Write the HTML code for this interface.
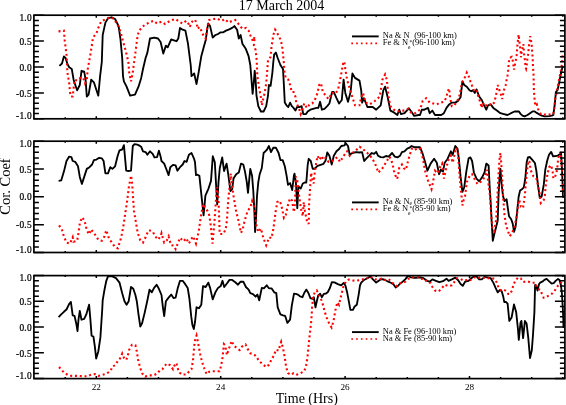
<!DOCTYPE html><html><head><meta charset="utf-8"><style>html,body{margin:0;padding:0;background:#fff;width:566px;height:405px;overflow:hidden}svg{display:block;will-change:transform}text{font-family:"Liberation Serif",serif;fill:#000}.sm{stroke:#000;stroke-width:0.22px}</style></head><body>
<svg width="566" height="405" viewBox="0 0 566 405">
<rect width="566" height="405" fill="#fff"/>
<polyline points="59.4,65.9 62.0,63.5 63.9,56.5 65.6,58.0 67.4,64.0 69.2,67.3 71.8,69.1 73.6,79.7 75.3,85.0 77.1,90.3 79.8,85.0 81.5,70.8 84.2,71.7 85.6,79.7 86.8,96.5 88.6,94.7 91.2,79.7 93.9,82.3 96.5,90.3 98.3,95.6 100.1,76.1 101.8,62.0 102.7,35.0 105.4,22.6 108.0,18.2 111.6,17.3 115.1,19.0 118.6,26.1 120.4,38.5 122.2,57.9 123.0,76.1 123.9,81.4 126.6,86.7 130.1,95.6 135.0,94.7 138.5,86.7 141.2,77.9 143.0,69.0 145.6,58.0 147.4,52.6 150.0,38.5 154.4,37.6 158.0,38.5 160.6,42.0 163.3,53.5 165.9,45.6 167.7,47.3 171.2,39.4 173.9,40.3 176.5,41.2 178.3,38.5 180.0,27.9 182.7,29.7 185.4,30.6 188.0,43.8 190.7,65.0 191.5,76.1 194.2,73.5 196.5,84.1 198.6,72.6 201.3,56.2 203.9,46.5 205.7,40.3 207.4,27.9 208.3,23.5 210.1,26.1 212.7,37.6 215.4,35.0 218.0,34.1 220.7,32.3 223.3,32.3 226.0,30.6 228.6,29.7 232.2,27.9 234.4,26.1 237.1,29.7 238.8,38.5 240.6,35.0 242.4,43.8 245.9,49.1 248.6,56.2 250.3,65.0 251.2,76.1 252.6,93.8 253.9,81.4 254.7,70.8 255.6,79.7 256.5,95.6 258.3,106.2 260.9,111.5 263.6,111.5 266.2,106.2 268.0,95.6 268.9,85.0 270.6,85.9 272.4,72.6 273.3,62.0 274.2,54.4 275.9,52.6 277.7,58.0 280.4,65.0 283.0,69.0 283.9,85.0 284.8,102.6 286.5,105.3 288.3,107.0 290.1,102.6 291.8,106.2 293.6,107.9 295.4,110.6 297.1,107.0 299.8,107.0 301.6,106.2 303.3,114.1 306.0,114.1 307.7,111.5 310.4,109.7 313.0,108.8 316.6,107.9 318.3,107.9 320.1,101.8 321.9,109.7 324.5,108.8 327.2,106.2 329.4,103.5 332.1,92.0 333.8,92.0 336.5,98.2 339.1,103.5 341.8,100.0 343.6,79.7 345.3,92.9 348.0,101.8 350.6,92.0 352.4,73.5 355.0,77.9 359.5,80.6 361.2,90.3 362.1,102.6 363.9,98.2 367.4,107.0 372.7,107.0 376.2,109.7 380.7,105.3 383.3,90.3 385.1,86.7 387.7,97.3 390.4,110.6 393.9,112.4 397.4,115.0 399.2,109.7 401.0,114.1 404.5,113.2 408.9,108.3 412.5,113.2 414.2,115.9 418.6,115.0 420.0,115.0 421.8,109.7 424.4,109.7 428.0,107.9 429.7,113.2 432.4,110.6 435.0,115.0 441.2,115.0 443.9,113.2 446.5,107.9 449.2,104.4 451.8,102.6 455.3,102.6 458.0,100.9 460.6,97.3 462.4,81.4 464.2,85.0 466.8,86.7 469.5,90.3 471.2,91.2 473.0,90.3 474.8,92.9 476.5,89.4 479.2,96.5 481.8,100.0 483.6,104.4 486.3,109.7 488.0,105.3 490.7,104.4 493.3,107.9 496.9,110.6 500.4,113.2 503.9,114.1 507.5,115.0 511.0,113.2 514.5,111.5 518.9,111.4 520.3,113.6 522.5,115.7 524.6,116.4 527.5,115.0 530.4,112.9 532.5,111.4 534.7,111.4 536.8,112.9 539.0,114.3 541.8,115.7 544.7,116.4 549.0,116.2 551.8,115.7 553.3,115.0 554.7,105.0 555.9,92.1 557.6,89.9 559.0,83.5 560.4,76.3 561.9,69.2 563.0,66.0" fill="none" stroke="#000" stroke-width="1.85" stroke-linejoin="round"/>
<polyline points="58.5,31.4 63.9,30.6 64.7,40.3 65.6,47.3 66.5,54.4 67.4,72.6 69.2,83.2 70.0,92.0 70.9,96.5 72.7,96.5 73.6,88.5 74.5,79.7 77.1,80.6 80.6,77.9 83.3,77.9 85.0,83.2 86.8,79.7 87.7,69.4 90.4,54.4 92.1,43.8 93.0,37.6 96.5,33.2 98.3,27.9 101.0,21.7 106.3,18.7 110.7,17.3 114.2,19.0 117.7,25.3 120.4,31.4 123.0,41.2 125.7,50.9 128.3,61.5 129.2,72.6 131.0,81.4 132.8,72.6 133.6,65.5 135.4,52.6 136.8,42.0 137.7,35.0 139.4,30.6 142.1,27.0 145.6,24.4 149.1,22.6 153.6,20.8 157.1,23.5 161.5,21.7 165.0,24.0 168.6,21.7 172.1,20.0 175.6,19.1 179.2,21.7 182.7,23.5 186.2,20.8 188.9,24.4 189.8,27.0 191.5,22.6 193.3,20.0 195.1,20.0 196.8,23.5 197.5,28.8 199.5,27.0 201.3,30.6 203.9,36.7 205.7,38.5 206.6,31.4 208.3,22.6 209.2,20.0 212.7,19.1 217.2,18.7 221.6,20.8 225.1,19.1 228.6,22.6 232.2,20.8 235.3,20.0 238.8,24.4 242.4,28.8 245.9,27.9 248.6,30.6 251.2,37.6 253.0,41.2 254.7,36.7 253.9,45.6 255.6,50.0 256.5,58.0 257.4,76.1 259.2,88.5 260.9,97.3 261.8,105.3 262.7,100.9 264.5,93.8 266.2,83.2 267.1,72.6 268.0,60.0 270.6,57.0 271.5,47.3 273.3,35.0 275.1,29.7 276.8,32.3 280.4,39.4 282.1,45.6 283.0,54.4 283.9,63.2 284.3,70.8 285.7,77.9 288.3,79.7 290.1,85.0 291.8,92.0 293.6,92.0 295.4,96.5 296.3,102.6 298.9,108.0 300.7,114.1 302.4,109.7 304.2,103.5 306.9,108.0 309.5,104.4 312.2,103.5 314.8,100.0 317.5,92.9 319.2,85.0 321.0,83.2 322.8,92.0 325.0,94.7 328.5,99.1 332.1,92.9 335.6,93.8 338.3,88.5 340.9,76.1 342.7,65.5 343.6,61.5 344.4,62.0 345.3,69.1 347.1,79.7 349.7,88.5 352.4,97.3 355.0,105.3 359.5,105.3 361.2,97.3 363.0,92.9 365.6,102.6 369.2,104.4 372.7,102.6 376.2,100.0 379.8,96.5 382.4,79.7 385.1,74.4 386.8,79.7 388.6,97.3 390.4,106.2 393.9,109.7 397.4,111.5 401.0,110.6 404.5,110.6 408.0,108.8 411.6,113.2 415.1,113.2 418.6,110.6 420.0,109.7 422.7,100.9 426.2,98.2 429.7,102.6 433.3,103.5 436.8,104.4 440.3,102.6 443.9,101.8 446.5,97.3 447.4,92.0 449.2,88.5 450.0,97.3 451.8,106.2 454.5,105.3 457.1,100.9 458.9,98.2 461.5,85.0 463.3,79.7 465.1,77.0 466.8,72.6 468.6,76.1 470.4,81.4 472.1,85.9 473.9,90.3 476.5,89.4 478.3,96.5 480.1,101.8 481.8,107.9 482.7,102.6 484.5,106.2 486.3,105.3 488.9,103.5 491.6,105.3 494.2,102.6 496.0,95.6 497.7,85.0 499.5,90.3 501.3,95.6 502.2,99.1 503.9,90.3 505.7,85.0 506.6,79.7 507.4,76.3 508.0,72.5 508.3,68.2 508.8,63.3 509.2,58.3 511.7,56.9 512.9,61.4 513.5,65.7 514.1,69.7 514.8,65.1 515.7,60.8 516.6,55.9 517.0,51.5 517.2,46.6 517.8,42.3 518.2,37.3 518.7,34.6 519.1,39.8 519.7,44.1 520.3,49.1 520.9,53.4 520.9,57.3 521.5,52.8 523.4,44.1 523.6,48.5 524.0,53.4 524.6,57.7 525.2,62.7 525.6,67.6 526.1,68.8 526.9,63.9 527.3,59.0 528.1,54.6 528.6,49.7 529.0,45.4 529.8,40.8 530.2,36.1 531.0,40.4 531.7,44.8 532.0,49.7 532.4,54.3 532.7,58.6 532.9,63.5 533.0,68.2 533.5,72.5 533.9,90.7 534.7,100.7 535.4,105.7 536.8,104.3 538.2,109.3 540.4,113.6 543.2,115.0 546.1,114.3 549.0,114.3 551.8,115.0 553.3,113.6 554.0,109.3 554.7,103.5 555.4,97.8 556.9,90.7 558.3,83.5 559.7,76.3 561.2,69.2 561.9,64.1 562.6,55.3" fill="none" stroke="#ff0000" stroke-width="2.1" stroke-dasharray="2 2.8"/>
<polyline points="58.6,180.8 61.2,180.4 63.9,171.6 66.5,161.0 69.2,156.6 71.4,157.1 72.7,161.0 75.3,161.9 78.0,166.3 79.8,176.9 81.9,183.9 84.2,176.9 86.8,168.9 89.5,167.2 92.1,164.5 93.9,160.1 96.5,159.6 99.2,157.8 101.8,158.3 103.6,161.0 105.4,173.3 108.0,173.3 110.3,167.2 112.4,168.9 115.1,166.3 117.7,155.7 119.5,150.4 122.2,149.5 123.9,145.1 126.2,170.7 128.3,171.0 131.0,170.7 132.8,146.0 134.5,144.2 137.2,144.7 138.5,145.1 141.2,146.8 143.0,151.3 145.6,152.1 147.4,154.8 150.0,151.3 152.7,153.9 154.4,157.4 157.1,157.1 158.9,150.7 160.6,156.6 161.5,161.0 164.2,163.6 165.9,168.0 168.6,175.1 170.3,167.2 173.0,164.9 175.6,165.4 177.4,170.7 180.0,167.2 182.7,164.5 184.5,161.0 186.6,161.9 188.9,154.8 191.5,153.0 194.2,159.2 195.0,162.3 196.0,175.1 197.5,174.7 199.4,175.9 201.2,193.2 203.6,215.4 205.4,195.7 208.6,188.3 211.0,180.9 212.8,156.2 214.8,162.3 217.2,204.3 218.5,182.1 219.8,168.0 222.2,157.4 224.1,171.0 226.6,163.6 228.3,174.7 230.4,191.0 232.2,189.2 233.5,178.6 236.2,174.2 238.8,172.5 241.0,163.6 243.3,164.5 245.0,171.6 246.8,182.2 248.0,192.8 249.4,177.8 250.3,168.9 252.1,176.0 253.3,191.0 254.4,211.7 255.1,232.0 256.1,217.0 257.0,196.0 258.3,182.2 259.7,174.2 261.8,168.0 263.6,153.0 265.3,151.3 267.1,149.5 268.9,146.0 271.0,152.1 273.3,147.7 275.9,147.7 278.6,153.0 280.4,160.1 282.7,160.1 284.8,166.3 286.5,175.1 288.0,184.8 290.1,183.1 292.2,190.1 294.0,175.1 294.5,173.7 295.9,182.5 297.3,208.2 298.4,186.5 300.8,188.5 302.8,183.5 304.8,182.5 306.3,182.5 307.7,164.8 308.7,158.8 310.7,160.8 312.7,168.7 314.6,168.7 317.6,165.8 320.6,164.8 323.5,163.8 325.5,160.8 327.3,152.5 329.4,155.7 331.7,164.5 333.8,155.7 336.5,151.3 339.1,149.0 341.3,146.0 344.4,145.4 345.8,143.3 348.0,146.0 349.7,154.8 352.4,153.0 355.9,152.1 359.5,152.5 362.1,152.1 364.2,161.0 366.5,158.3 369.2,155.7 371.8,153.0 374.1,153.9 376.2,151.8 378.0,155.7 380.7,157.1 383.3,157.4 386.0,156.0 388.6,156.6 392.1,153.0 394.8,156.6 397.4,157.4 400.1,155.7 401.9,152.1 404.5,151.3 407.2,148.6 409.5,147.7 411.6,146.0 414.2,147.2 416.9,147.2 420.0,147.2 422.7,153.9 425.3,162.7 427.4,170.7 430.6,163.6 434.1,158.8 436.8,162.7 439.1,174.2 440.8,169.8 443.0,171.6 444.7,162.7 447.4,159.2 450.9,151.3 452.7,154.8 455.3,146.0 457.5,148.6 458.9,159.2 460.6,176.9 462.4,191.9 464.2,187.5 466.3,171.6 468.6,158.3 470.4,157.4 472.1,161.0 473.9,172.5 476.5,178.6 479.2,181.3 481.8,177.8 484.5,172.5 486.3,163.6 488.6,165.4 489.8,189.2 490.7,202.8 491.6,220.5 492.8,240.8 494.2,234.6 496.0,227.6 497.7,220.5 498.6,194.0 499.5,178.6 500.4,168.9 501.6,183.9 503.0,196.0 504.5,201.1 506.6,199.3 507.5,205.9 509.0,216.2 511.2,219.2 512.7,223.6 514.1,231.8 515.6,226.6 517.1,211.8 518.6,197.0 520.1,190.4 522.3,188.9 523.8,187.4 525.3,178.5 526.7,162.2 527.9,157.5 529.7,157.0 531.9,159.3 534.9,163.0 536.4,171.1 537.9,184.4 539.8,198.0 541.6,196.8 543.8,184.4 545.3,169.6 547.2,160.7 549.0,154.8 551.2,151.9 553.1,156.3 555.6,156.0 557.9,155.6 560.1,154.1 561.1,153.3 562.0,169.6 562.6,184.4 563.0,197.8" fill="none" stroke="#000" stroke-width="1.85" stroke-linejoin="round"/>
<polyline points="59.1,225.4 62.1,230.2 63.9,236.4 66.5,242.6 70.0,243.5 72.7,237.3 73.6,241.7 77.1,240.8 78.0,236.4 79.8,223.2 82.0,217.3 84.5,220.5 86.8,230.2 89.1,234.3 91.2,229.3 93.0,232.0 95.7,235.5 98.3,239.9 101.8,240.8 104.5,236.4 106.3,230.2 108.9,238.2 112.4,243.5 115.1,247.0 117.8,248.3 121.1,237.8 123.3,226.7 125.6,211.1 127.3,200.0 128.9,186.7 131.1,175.6 132.2,184.4 132.9,195.6 134.0,211.1 135.9,222.3 137.7,232.9 140.3,240.3 143.0,242.6 145.6,237.3 147.4,232.9 149.1,230.2 152.7,231.5 155.3,236.4 158.0,239.6 160.6,236.4 161.5,233.2 163.3,239.9 164.2,242.6 166.8,240.3 168.6,236.4 169.5,240.3 171.2,245.2 173.5,245.6 175.6,249.1 177.4,244.4 180.0,237.8 183.6,241.3 186.2,238.2 188.9,243.5 191.2,239.1 193.3,236.4 196.0,243.5 198.7,231.5 201.2,214.2 203.3,204.0 205.0,207.3 207.4,210.8 209.2,215.2 210.6,224.0 211.3,231.1 212.5,243.6 214.3,224.1 216.0,199.4 217.2,187.0 218.5,199.4 219.7,234.0 223.2,234.0 225.7,229.3 226.9,220.5 228.3,199.4 230.1,182.1 230.8,173.5 232.0,185.8 233.5,195.8 234.4,201.1 236.2,211.7 238.0,218.7 239.7,226.7 241.0,232.9 242.7,229.3 244.5,221.4 246.3,215.2 247.7,210.8 250.3,207.3 252.1,201.1 253.9,206.4 255.6,217.0 256.5,225.8 258.3,232.0 260.9,228.5 262.7,235.5 264.5,240.8 266.2,245.2 267.5,241.7 269.2,237.3 271.5,238.2 273.3,229.3 274.5,220.5 275.6,211.7 277.3,202.0 279.5,200.7 281.2,204.6 282.7,211.7 283.9,217.9 285.7,215.2 287.4,207.3 289.9,198.4 291.9,200.3 293.9,212.2 294.9,204.3 295.9,176.6 297.3,180.6 298.4,190.5 299.8,200.3 300.8,208.2 302.8,216.1 303.8,202.3 304.8,210.2 306.7,220.1 308.7,224.0 309.1,204.3 310.3,184.5 311.1,172.7 312.3,178.6 313.7,183.5 314.6,173.7 316.2,162.8 317.6,155.9 319.6,159.8 321.6,155.9 323.5,159.8 325.5,157.8 328.5,161.9 332.1,161.0 335.6,158.3 337.4,157.4 340.0,161.9 342.7,157.4 344.4,154.8 347.1,151.3 349.7,155.7 352.4,153.0 355.9,150.4 359.5,146.8 363.0,148.6 365.6,152.1 367.4,153.0 370.1,155.7 372.7,159.2 375.4,164.5 377.1,168.9 378.0,172.5 381.5,169.8 384.2,165.4 386.8,161.0 389.5,156.6 391.3,160.1 392.7,164.5 393.9,170.7 395.3,175.1 397.1,179.0 398.3,174.2 399.2,168.0 401.9,164.5 403.6,168.0 405.9,169.8 407.2,164.5 408.0,161.0 409.8,154.8 411.9,148.6 414.2,147.7 416.9,150.4 420.4,148.6 421.8,153.9 423.0,159.2 425.3,171.6 428.0,180.4 431.5,189.2 433.3,180.4 435.0,170.7 437.7,173.3 440.3,166.3 442.1,163.6 443.9,178.6 445.6,170.7 448.3,160.1 450.9,155.7 452.7,162.7 454.5,154.8 456.2,147.7 458.0,153.9 458.9,166.3 459.8,178.6 461.5,195.8 462.4,205.5 463.3,201.1 465.1,195.8 466.8,182.2 469.5,176.0 472.1,174.2 474.8,179.5 477.4,183.9 480.1,182.2 482.7,180.4 485.4,175.1 487.1,169.8 488.0,180.4 489.8,194.0 490.7,208.1 492.4,229.3 494.2,231.1 496.0,220.5 496.9,208.1 497.7,191.0 498.6,173.3 499.5,159.2 500.4,153.0 501.3,164.5 502.2,178.6 503.0,194.5 504.5,215.2 506.2,225.8 507.5,229.6 509.7,236.2 511.9,233.3 514.1,228.1 515.6,222.1 516.7,216.2 517.6,210.3 518.1,204.4 519.3,199.9 520.8,206.6 523.0,208.1 523.8,202.9 525.0,194.0 525.3,188.9 526.0,181.5 526.7,174.1 527.5,167.4 528.2,160.7 529.7,162.2 530.4,168.9 531.9,173.3 533.4,176.3 535.6,177.8 537.1,180.0 537.9,185.9 539.3,191.9 540.8,202.9 543.8,199.9 544.8,195.5 546.0,183.0 547.5,174.1 549.0,167.4 551.2,165.2 552.7,171.9 553.4,178.5 554.9,177.0 556.4,173.3 557.6,165.2 558.1,158.5 559.6,154.1 560.5,151.9 561.1,159.3 562.0,169.6 562.6,180.0 563.0,188.9 564.5,197.0" fill="none" stroke="#ff0000" stroke-width="2.1" stroke-dasharray="2 2.8"/>
<polyline points="58.6,317.1 61.2,314.4 63.9,311.8 66.5,309.5 69.2,303.8 70.9,302.0 72.7,315.3 74.5,315.8 76.2,323.2 77.5,331.2 78.5,319.7 79.8,310.9 81.5,319.7 84.2,318.8 86.3,314.4 89.1,304.7 90.4,319.7 91.6,335.6 93.4,336.5 94.8,346.2 96.2,358.6 98.3,351.5 100.4,337.4 102.2,310.0 102.7,300.3 104.5,289.7 106.3,280.8 108.0,276.4 112.4,276.4 116.0,278.2 119.5,282.6 122.2,293.2 124.5,301.2 126.6,304.7 128.7,301.2 131.0,287.0 133.3,288.8 135.4,295.0 136.8,301.2 138.5,314.4 140.3,326.5 142.1,323.2 144.7,312.6 147.4,300.3 149.5,289.7 151.8,292.3 154.1,287.9 156.6,284.7 158.9,288.8 161.5,295.0 162.9,307.3 164.2,316.2 165.9,301.2 168.6,297.6 171.2,294.6 173.5,298.1 175.6,297.6 177.8,287.9 180.0,280.8 182.7,280.8 185.4,284.4 187.7,287.9 189.4,298.5 191.2,316.2 192.4,325.0 193.8,329.0 195.1,321.5 196.5,307.3 199.0,308.2 201.3,304.7 203.0,286.1 205.7,287.0 208.3,282.6 210.1,287.9 212.7,299.4 215.4,292.3 218.0,287.9 220.7,286.1 222.5,280.8 224.2,287.0 226.9,283.5 229.5,279.9 232.2,279.9 235.3,282.2 238.0,284.7 240.6,281.7 243.3,281.7 245.9,287.0 248.6,289.7 250.3,293.2 253.0,294.1 255.6,296.7 257.4,294.6 259.2,300.3 261.8,287.9 263.9,288.3 266.7,285.3 268.9,288.3 271.5,288.3 274.2,292.3 276.3,293.2 277.7,307.3 280.4,314.4 283.0,315.3 285.1,315.8 287.4,322.9 290.1,319.7 291.8,305.6 294.0,293.6 296.8,294.1 298.9,295.3 300.0,296.4 302.5,297.2 304.2,293.0 306.4,289.6 308.4,293.0 310.4,298.1 312.6,298.9 313.8,297.2 315.5,307.3 316.8,301.4 318.2,295.5 320.2,293.8 321.8,297.2 323.9,293.8 326.0,293.5 327.7,292.2 329.9,288.0 331.9,282.1 334.5,282.4 337.8,284.1 341.2,285.4 343.7,282.9 345.4,285.4 347.1,292.2 348.7,300.6 350.4,309.8 352.9,309.8 354.6,306.5 356.8,304.8 358.8,293.8 360.0,285.4 361.2,282.6 363.9,280.0 367.4,278.2 370.1,276.4 372.7,279.1 376.2,282.6 379.8,280.0 382.4,279.1 385.1,280.0 388.3,281.7 391.3,283.0 393.6,284.4 395.7,287.5 397.8,286.1 400.1,283.5 402.7,281.7 405.4,279.1 408.0,275.9 410.7,277.3 413.3,277.7 416.9,277.7 420.0,277.3 423.5,278.2 427.1,280.8 429.7,281.7 432.4,279.4 435.9,280.8 439.4,282.2 443.0,281.2 446.5,278.7 448.6,280.8 451.8,279.4 455.3,277.7 458.0,280.0 460.6,284.0 462.8,285.8 465.1,281.7 468.6,280.8 471.2,278.2 473.9,276.4 476.5,276.4 479.2,279.4 481.8,279.4 484.5,276.9 487.1,277.3 490.7,278.2 493.3,282.6 495.6,287.9 497.7,292.3 500.0,290.0 501.7,291.3 503.2,296.4 504.3,302.1 505.9,301.9 507.6,303.6 509.3,320.9 511.6,317.5 514.0,304.5 516.2,312.3 518.0,329.5 518.8,339.9 520.5,322.6 521.4,320.9 523.1,338.2 524.9,320.9 526.6,323.5 528.3,338.2 530.0,358.0 531.8,350.3 533.0,334.7 534.4,312.3 535.1,284.9 536.1,285.6 537.5,290.6 539.0,284.2 540.1,282.7 542.3,281.7 544.4,279.9 546.6,278.9 548.7,280.9 551.6,283.5 553.7,283.2 555.9,280.6 558.0,278.9 559.5,279.9 560.9,284.9 561.9,293.5 562.8,307.8 563.3,319.3 563.5,328.0" fill="none" stroke="#000" stroke-width="1.85" stroke-linejoin="round"/>
<polyline points="59.1,367.0 62.1,370.6 65.6,373.6 69.2,375.7 73.6,375.9 78.0,375.9 82.4,376.2 87.7,376.2 91.2,374.5 94.8,374.1 98.3,375.9 101.8,375.0 105.4,374.1 108.0,372.7 110.7,370.6 112.4,366.5 115.1,365.3 117.7,361.2 119.5,359.5 120.9,356.8 122.2,353.6 123.9,357.7 126.2,360.0 127.5,356.8 129.2,349.7 131.9,344.8 135.4,345.3 136.8,351.5 138.2,360.3 140.3,368.3 142.4,373.6 145.2,376.6 149.1,375.4 153.6,375.4 157.1,373.6 159.7,370.6 162.4,369.2 164.2,366.5 166.8,363.5 170.3,365.3 173.0,369.2 174.8,364.8 176.5,363.0 177.4,367.4 179.2,372.3 181.8,374.5 186.2,374.5 188.9,371.8 191.5,369.2 193.0,360.3 194.2,346.2 195.1,340.0 196.5,335.6 197.7,340.9 199.0,348.0 200.4,355.0 202.1,362.1 204.3,368.3 206.6,374.1 209.2,371.8 212.7,371.3 216.3,371.3 219.5,371.3 221.2,365.6 222.5,357.7 223.9,344.1 225.1,345.3 226.0,349.7 226.9,355.0 228.6,349.7 230.4,344.4 231.8,340.9 233.5,345.3 236.7,348.0 239.7,350.1 242.0,346.6 245.5,344.4 247.7,348.9 250.3,353.3 253.9,354.2 256.5,356.8 259.2,361.2 262.7,364.2 266.2,367.0 268.9,364.8 271.5,359.5 274.2,355.0 275.9,349.7 278.6,350.6 280.0,345.3 281.2,341.8 283.0,348.0 284.8,357.7 286.2,367.4 288.0,373.1 291.0,374.8 293.6,373.1 297.1,374.5 300.7,373.1 304.2,371.3 306.0,366.5 307.4,357.7 308.3,348.9 309.2,339.2 310.4,329.1 311.4,319.1 312.1,307.3 313.1,297.2 314.8,292.2 316.8,290.5 318.8,294.7 321.0,298.9 323.2,305.6 324.9,312.3 326.9,318.2 329.4,324.1 331.6,327.5 333.6,320.7 335.3,310.7 337.3,302.3 339.0,304.8 340.3,298.9 342.0,292.2 343.7,285.4 346.2,281.2 348.7,279.6 352.1,280.4 355.9,280.8 360.3,280.0 363.9,279.1 367.0,278.2 370.1,276.4 372.7,278.2 375.4,279.4 378.9,279.1 381.5,278.7 385.1,280.0 388.6,279.1 391.3,281.7 394.3,284.4 396.6,286.1 399.2,283.5 402.7,282.6 405.4,281.7 408.0,279.1 411.6,277.3 415.1,277.3 418.6,277.3 420.0,279.1 423.5,278.7 427.1,281.7 430.6,283.0 432.4,287.0 435.0,290.6 438.6,291.4 442.1,287.9 444.7,284.7 448.3,286.1 451.8,285.3 454.5,281.7 457.1,278.2 460.6,279.1 464.2,280.8 466.8,280.0 469.5,280.5 472.1,279.1 474.8,277.3 477.4,278.2 480.1,277.3 483.6,277.7 487.1,278.7 490.7,277.7 494.2,278.7 496.9,282.6 498.6,287.9 501.3,290.6 503.9,289.7 506.2,291.0 508.3,294.0 510.1,294.1 512.2,289.9 513.2,285.6 515.0,281.3 517.9,277.7 520.8,278.4 523.2,282.0 527.2,281.3 531.5,282.7 535.1,282.7 537.0,287.8 538.7,289.2 540.4,289.9 541.8,293.5 543.7,297.8 545.8,297.1 548.7,295.6 552.3,293.5 555.2,289.9 558.0,285.6 560.9,282.7 563.8,283.5" fill="none" stroke="#ff0000" stroke-width="2.1" stroke-dasharray="2 2.8"/>
<rect x="33.9" y="15.2" width="531.0" height="103.6" fill="none" stroke="#000" stroke-width="1.7"/>
<path d="M33.9,15.20h10M564.9,15.20h-10M33.9,20.38h5M564.9,20.38h-5M33.9,25.56h5M564.9,25.56h-5M33.9,30.74h5M564.9,30.74h-5M33.9,35.92h5M564.9,35.92h-5M33.9,41.10h10M564.9,41.10h-10M33.9,46.28h5M564.9,46.28h-5M33.9,51.46h5M564.9,51.46h-5M33.9,56.64h5M564.9,56.64h-5M33.9,61.82h5M564.9,61.82h-5M33.9,67.00h10M564.9,67.00h-10M33.9,72.18h5M564.9,72.18h-5M33.9,77.36h5M564.9,77.36h-5M33.9,82.54h5M564.9,82.54h-5M33.9,87.72h5M564.9,87.72h-5M33.9,92.90h10M564.9,92.90h-10M33.9,98.08h5M564.9,98.08h-5M33.9,103.26h5M564.9,103.26h-5M33.9,108.44h5M564.9,108.44h-5M33.9,113.62h5M564.9,113.62h-5M33.9,118.80h10M564.9,118.80h-10M65.20,118.8v-1.5M65.20,15.2v1.5M96.30,118.8v-2.5M96.30,15.2v2.5M127.40,118.8v-1.5M127.40,15.2v1.5M158.50,118.8v-1.5M158.50,15.2v1.5M189.60,118.8v-1.5M189.60,15.2v1.5M220.70,118.8v-2.5M220.70,15.2v2.5M251.80,118.8v-1.5M251.80,15.2v1.5M282.90,118.8v-1.5M282.90,15.2v1.5M314.00,118.8v-1.5M314.00,15.2v1.5M345.10,118.8v-2.5M345.10,15.2v2.5M376.20,118.8v-1.5M376.20,15.2v1.5M407.30,118.8v-1.5M407.30,15.2v1.5M438.40,118.8v-1.5M438.40,15.2v1.5M469.50,118.8v-2.5M469.50,15.2v2.5M500.60,118.8v-1.5M500.60,15.2v1.5M531.70,118.8v-1.5M531.70,15.2v1.5M562.80,118.8v-1.5M562.80,15.2v1.5" stroke="#000" stroke-width="1.5" fill="none"/>
<text x="31.9" y="20.9" class="sm" font-size="9.4" letter-spacing="0.25" text-anchor="end">1.0</text>
<text x="31.9" y="44.7" class="sm" font-size="9.4" letter-spacing="0.25" text-anchor="end">0.5</text>
<text x="31.9" y="70.6" class="sm" font-size="9.4" letter-spacing="0.25" text-anchor="end">0.0</text>
<text x="31.9" y="96.5" class="sm" font-size="9.4" letter-spacing="0.25" text-anchor="end">-0.5</text>
<text x="31.9" y="119.0" class="sm" font-size="9.4" letter-spacing="0.25" text-anchor="end">-1.0</text>
<rect x="33.9" y="141.2" width="531.0" height="111.30000000000001" fill="none" stroke="#000" stroke-width="1.7"/>
<path d="M33.9,141.20h10M564.9,141.20h-10M33.9,146.76h5M564.9,146.76h-5M33.9,152.33h5M564.9,152.33h-5M33.9,157.89h5M564.9,157.89h-5M33.9,163.46h5M564.9,163.46h-5M33.9,169.02h10M564.9,169.02h-10M33.9,174.59h5M564.9,174.59h-5M33.9,180.16h5M564.9,180.16h-5M33.9,185.72h5M564.9,185.72h-5M33.9,191.28h5M564.9,191.28h-5M33.9,196.85h10M564.9,196.85h-10M33.9,202.41h5M564.9,202.41h-5M33.9,207.98h5M564.9,207.98h-5M33.9,213.54h5M564.9,213.54h-5M33.9,219.11h5M564.9,219.11h-5M33.9,224.68h10M564.9,224.68h-10M33.9,230.24h5M564.9,230.24h-5M33.9,235.81h5M564.9,235.81h-5M33.9,241.37h5M564.9,241.37h-5M33.9,246.94h5M564.9,246.94h-5M33.9,252.50h10M564.9,252.50h-10M65.20,252.5v-1.5M65.20,141.2v1.5M96.30,252.5v-2.5M96.30,141.2v2.5M127.40,252.5v-1.5M127.40,141.2v1.5M158.50,252.5v-1.5M158.50,141.2v1.5M189.60,252.5v-1.5M189.60,141.2v1.5M220.70,252.5v-2.5M220.70,141.2v2.5M251.80,252.5v-1.5M251.80,141.2v1.5M282.90,252.5v-1.5M282.90,141.2v1.5M314.00,252.5v-1.5M314.00,141.2v1.5M345.10,252.5v-2.5M345.10,141.2v2.5M376.20,252.5v-1.5M376.20,141.2v1.5M407.30,252.5v-1.5M407.30,141.2v1.5M438.40,252.5v-1.5M438.40,141.2v1.5M469.50,252.5v-2.5M469.50,141.2v2.5M500.60,252.5v-1.5M500.60,141.2v1.5M531.70,252.5v-1.5M531.70,141.2v1.5M562.80,252.5v-1.5M562.80,141.2v1.5" stroke="#000" stroke-width="1.5" fill="none"/>
<text x="31.9" y="146.9" class="sm" font-size="9.4" letter-spacing="0.25" text-anchor="end">1.0</text>
<text x="31.9" y="172.6" class="sm" font-size="9.4" letter-spacing="0.25" text-anchor="end">0.5</text>
<text x="31.9" y="200.4" class="sm" font-size="9.4" letter-spacing="0.25" text-anchor="end">0.0</text>
<text x="31.9" y="228.3" class="sm" font-size="9.4" letter-spacing="0.25" text-anchor="end">-0.5</text>
<text x="31.9" y="252.7" class="sm" font-size="9.4" letter-spacing="0.25" text-anchor="end">-1.0</text>
<rect x="33.9" y="275.6" width="531.0" height="103.0" fill="none" stroke="#000" stroke-width="1.7"/>
<path d="M33.9,275.60h10M564.9,275.60h-10M33.9,280.75h5M564.9,280.75h-5M33.9,285.90h5M564.9,285.90h-5M33.9,291.05h5M564.9,291.05h-5M33.9,296.20h5M564.9,296.20h-5M33.9,301.35h10M564.9,301.35h-10M33.9,306.50h5M564.9,306.50h-5M33.9,311.65h5M564.9,311.65h-5M33.9,316.80h5M564.9,316.80h-5M33.9,321.95h5M564.9,321.95h-5M33.9,327.10h10M564.9,327.10h-10M33.9,332.25h5M564.9,332.25h-5M33.9,337.40h5M564.9,337.40h-5M33.9,342.55h5M564.9,342.55h-5M33.9,347.70h5M564.9,347.70h-5M33.9,352.85h10M564.9,352.85h-10M33.9,358.00h5M564.9,358.00h-5M33.9,363.15h5M564.9,363.15h-5M33.9,368.30h5M564.9,368.30h-5M33.9,373.45h5M564.9,373.45h-5M33.9,378.60h10M564.9,378.60h-10M65.20,378.6v-1.5M65.20,275.6v1.5M96.30,378.6v-2.5M96.30,275.6v2.5M127.40,378.6v-1.5M127.40,275.6v1.5M158.50,378.6v-1.5M158.50,275.6v1.5M189.60,378.6v-1.5M189.60,275.6v1.5M220.70,378.6v-2.5M220.70,275.6v2.5M251.80,378.6v-1.5M251.80,275.6v1.5M282.90,378.6v-1.5M282.90,275.6v1.5M314.00,378.6v-1.5M314.00,275.6v1.5M345.10,378.6v-2.5M345.10,275.6v2.5M376.20,378.6v-1.5M376.20,275.6v1.5M407.30,378.6v-1.5M407.30,275.6v1.5M438.40,378.6v-1.5M438.40,275.6v1.5M469.50,378.6v-2.5M469.50,275.6v2.5M500.60,378.6v-1.5M500.60,275.6v1.5M531.70,378.6v-1.5M531.70,275.6v1.5M562.80,378.6v-1.5M562.80,275.6v1.5" stroke="#000" stroke-width="1.5" fill="none"/>
<text x="31.9" y="281.3" class="sm" font-size="9.4" letter-spacing="0.25" text-anchor="end">1.0</text>
<text x="31.9" y="305.0" class="sm" font-size="9.4" letter-spacing="0.25" text-anchor="end">0.5</text>
<text x="31.9" y="330.7" class="sm" font-size="9.4" letter-spacing="0.25" text-anchor="end">0.0</text>
<text x="31.9" y="356.5" class="sm" font-size="9.4" letter-spacing="0.25" text-anchor="end">-0.5</text>
<text x="31.9" y="378.8" class="sm" font-size="9.4" letter-spacing="0.25" text-anchor="end">-1.0</text>
<text x="96.3" y="389.8" font-size="9.2" text-anchor="middle">22</text>
<text x="220.7" y="389.8" font-size="9.2" text-anchor="middle">24</text>
<text x="345.1" y="389.8" font-size="9.2" text-anchor="middle">26</text>
<text x="469.5" y="389.8" font-size="9.2" text-anchor="middle">28</text>
<text x="238.8" y="9.6" font-size="14">17 March 2004</text>
<text x="275.8" y="402.6" font-size="14">Time (Hrs)</text>
<text transform="translate(10,214.7) rotate(-90)" x="0" y="0" font-size="14.5">Cor. Coef</text>
<line x1="352" y1="36.4" x2="378.7" y2="36.4" stroke="#000" stroke-width="1.9"/>
<line x1="351.3" y1="43.3" x2="378" y2="43.3" stroke="#ff0000" stroke-width="1.7" stroke-dasharray="1.7 3.1"/>
<text x="382.8" y="37.6" font-size="8.45">Na &amp; N<tspan dx="4.8">(96-100 km)</tspan></text>
<text x="382.8" y="44.5" font-size="8.45">Fe &amp; N<tspan dy="4.4" font-size="5.5">e</tspan><tspan dy="-5.3" dx="-1.0" font-size="5.5">*</tspan><tspan dy="0.9">(96-100 km)</tspan></text>
<line x1="352" y1="202.4" x2="378.7" y2="202.4" stroke="#000" stroke-width="1.9"/>
<line x1="351.3" y1="209.3" x2="378" y2="209.3" stroke="#ff0000" stroke-width="1.7" stroke-dasharray="1.7 3.1"/>
<text x="382.8" y="203.8" font-size="8.45">Na &amp; N<tspan dy="1.2" font-size="5.5">e</tspan><tspan dy="-1.2"> (85-90 km)</tspan></text>
<text x="382.8" y="210.8" font-size="8.45">Fe &amp; N<tspan dy="4.4" font-size="5.5">e</tspan><tspan dy="-5.3" dx="-1.0" font-size="5.5">*</tspan><tspan dy="0.9">(85-90 km)</tspan></text>
<line x1="352" y1="332.1" x2="378.7" y2="332.1" stroke="#000" stroke-width="1.9"/>
<line x1="351.3" y1="339.0" x2="378" y2="339.0" stroke="#ff0000" stroke-width="1.7" stroke-dasharray="1.7 3.1"/>
<text x="382.8" y="333.7" font-size="8.45">Na &amp; Fe (96-100 km)</text>
<text x="382.8" y="340.6" font-size="8.45">Na &amp; Fe (85-90 km)</text>
</svg></body></html>
